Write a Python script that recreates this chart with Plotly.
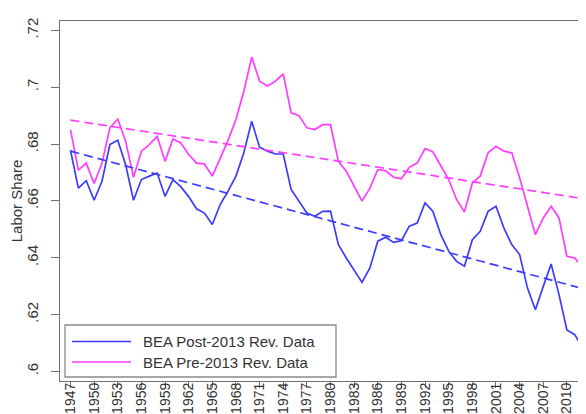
import plotly.graph_objects as go

# ---- data ----
years = list(range(1947, 2014))
post_2013 = [
    0.6778, 0.6645, 0.6671, 0.6602, 0.6669, 0.6798, 0.6813, 0.6727, 0.6602, 0.6675,
    0.6687, 0.6698, 0.6616, 0.6675, 0.6650, 0.6615, 0.6572, 0.6557, 0.6517, 0.6587,
    0.6634, 0.6687, 0.6769, 0.6880, 0.6789, 0.6775, 0.6765, 0.6765, 0.6640, 0.6599,
    0.6557, 0.6546, 0.6563, 0.6564, 0.6446, 0.6399, 0.6358, 0.6313, 0.6364, 0.6458,
    0.6472, 0.6454, 0.6460, 0.6511, 0.6522, 0.6593, 0.6563, 0.6481, 0.6423, 0.6387,
    0.6370, 0.6463, 0.6493, 0.6563, 0.6581, 0.6505, 0.6446, 0.6411, 0.6293, 0.6217,
    0.6299, 0.6378, 0.6270, 0.6146, 0.6129, 0.6082, 0.6035,
]
pre_years = list(range(1947, 2013))
pre_2013 = [
    0.6851, 0.6708, 0.6733, 0.6661, 0.6733, 0.6857, 0.6888, 0.6810, 0.6683, 0.6775,
    0.6798, 0.6827, 0.6739, 0.6818, 0.6804, 0.6763, 0.6733, 0.6730, 0.6687, 0.6748,
    0.6813, 0.6886, 0.6986, 0.7106, 0.7021, 0.7004, 0.7021, 0.7047, 0.6910, 0.6900,
    0.6857, 0.6851, 0.6868, 0.6868, 0.6739, 0.6704, 0.6651, 0.6599, 0.6645, 0.6710,
    0.6706, 0.6683, 0.6678, 0.6718, 0.6733, 0.6784, 0.6772, 0.6725, 0.6675, 0.6605,
    0.6561, 0.6663, 0.6687, 0.6769, 0.6792, 0.6775, 0.6769, 0.6681, 0.6581, 0.6481,
    0.6540, 0.6581, 0.6540, 0.6405, 0.6399, 0.6366,
]
# linear-trend end points
trend_years = [1947, 2013]
trend_post = [0.6775, 0.6284]
trend_pre = [0.6884, 0.6604]

x_ticks = list(range(1947, 2014, 3))
y_ticks = [0.60, 0.62, 0.64, 0.66, 0.68, 0.70, 0.72]
y_tick_text = [".6", ".62", ".64", ".66", ".68", ".7", ".72"]
legend_names = ["BEA Post-2013 Rev. Data", "BEA Pre-2013 Rev. Data"]

BLUE = "#3c3cff"
MAGENTA = "#ff3cff"
AXIS = "#6e6e6e"
TEXT = "#333333"
FONT = "Arial, Liberation Sans, sans-serif"

W, H = 586, 414
L, R, T, B = 52, 586, 13, 373


def px(x):
    return (x - L) / (R - L)


def py(y):
    return (B - y) / (B - T)


fig = go.Figure()
fig.add_trace(go.Scatter(x=years, y=post_2013, mode="lines", name=legend_names[0],
                         line=dict(color=BLUE, width=1.7), showlegend=False))
fig.add_trace(go.Scatter(x=pre_years, y=pre_2013, mode="lines", name=legend_names[1],
                         line=dict(color=MAGENTA, width=1.7), showlegend=False))
fig.add_trace(go.Scatter(x=trend_years, y=trend_post, mode="lines", name="Post trend",
                         line=dict(color=BLUE, width=1.7, dash="9px,5px"), showlegend=False))
fig.add_trace(go.Scatter(x=trend_years, y=trend_pre, mode="lines", name="Pre trend",
                         line=dict(color=MAGENTA, width=1.7, dash="9px,5px"), showlegend=False))

# manual legend box
shapes = [dict(type="rect", xref="paper", yref="paper",
               x0=px(57), x1=px(328), y0=py(369), y1=py(317),
               line=dict(color="#8a8a8a", width=1.3), fillcolor="white", layer="above")]
annotations = []
for i, (name, col) in enumerate(zip(legend_names, [BLUE, MAGENTA])):
    yrow = 333.5 + i * 20.5
    shapes.append(dict(type="line", xref="paper", yref="paper",
                       x0=px(64), x1=px(123), y0=py(yrow), y1=py(yrow),
                       line=dict(color=col, width=1.7), layer="above"))
    annotations.append(dict(xref="paper", yref="paper", x=px(133), y=py(yrow),
                            xanchor="left", yanchor="middle", text=name, showarrow=False,
                            font=dict(family=FONT, size=15, color=TEXT)))

fig.update_layout(
    width=W, height=H,
    margin=dict(l=L, r=W - R, t=T, b=H - B, pad=0),
    paper_bgcolor="white", plot_bgcolor="white",
    font=dict(family=FONT, size=15, color=TEXT),
    shapes=shapes, annotations=annotations,
    showlegend=False,
)
fig.update_xaxes(
    range=[1945.67, 2013.44], tickvals=x_ticks, ticktext=[str(v) for v in x_ticks],
    tickangle=-90, ticks="outside", ticklen=6, tickwidth=1.2, tickcolor=AXIS,
    showline=True, linecolor=AXIS, linewidth=1.3, mirror=True,
    showgrid=False, zeroline=False, tickfont=dict(size=14, color=TEXT),
    ticklabeloverflow="allow", ticklabelstandoff=-11,
    automargin=False,
)
fig.update_yaxes(
    range=[0.5966, 0.7233], tickvals=y_ticks, ticktext=y_tick_text,
    tickangle=-90, ticks="outside", ticklen=8, tickwidth=1.2, tickcolor=AXIS,
    showline=True, linecolor=AXIS, linewidth=1.3,
    showgrid=False, zeroline=False, tickfont=dict(size=15, color=TEXT),
    ticklabelstandoff=7,
    title=dict(text="Labor Share", font=dict(size=15, color=TEXT), standoff=0),
    automargin=False,
)

fig.write_html("out.html")
